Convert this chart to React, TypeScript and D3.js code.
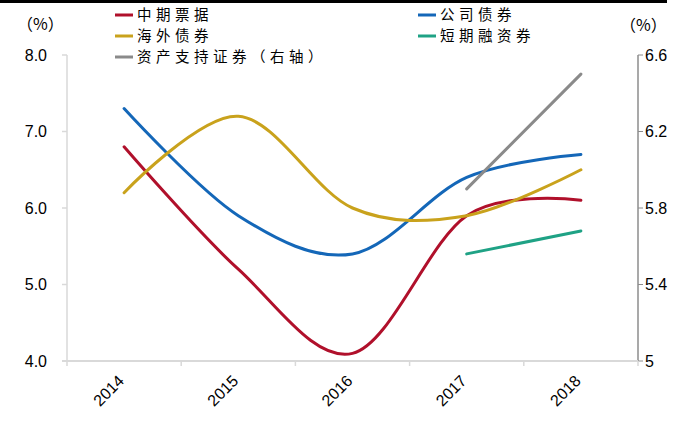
import React from "react";
import * as d3 from "d3";

const years = ["2014", "2015", "2016", "2017", "2018"];

// left axis series
const mtn = [6.8, 5.2, 4.1, 5.9, 6.1]; // 中期票据
const corp = [7.3, 5.9, 5.4, 6.4, 6.7]; // 公司债券
const overseas = [6.2, 7.2, 6.0, 5.9, 6.5]; // 海外债券
const cp = [null, null, null, 5.4, 5.7]; // 短期融资券
// right axis series
const abs = [null, null, null, 5.9, 6.5]; // 资产支持证券

const leftTicks = [4, 5, 6, 7, 8];
const rightTicks = [5, 5.4, 5.8, 6.2, 6.6];

const W = 696;
const H = 437;
const m = { left: 67, right: 638, top: 55, bottom: 361 };

const cjk = "'Noto Sans CJK SC', sans-serif";
const num = "'Liberation Sans', Arial, sans-serif";

export default function App() {
  const x = d3.scaleBand<string>().domain(years).range([m.left, m.right]);
  const yL = d3.scaleLinear().domain([4, 8]).range([m.bottom, m.top]);
  const yR = d3.scaleLinear().domain([5, 6.6]).range([m.bottom, m.top]);
  const cx = (i: number) => (x(years[i]) ?? 0) + x.bandwidth() / 2;

  const mk = (y: d3.ScaleLinear<number, number>) =>
    d3
      .line<number | null>()
      .defined((d) => d != null)
      .x((_, i) => cx(i))
      .y((d) => y(d as number))
      .curve(d3.curveCardinal.tension(0));

  const series = [
    { name: "中期票据", data: mtn, color: "#B0102B", y: yL },
    { name: "公司债券", data: corp, color: "#1467B8", y: yL },
    { name: "海外债券", data: overseas, color: "#C9A21C", y: yL },
    { name: "短期融资券", data: cp, color: "#1FA285", y: yL },
    { name: "资产支持证券（右轴）", data: abs, color: "#8A8A8A", y: yR },
  ];

  const legendPos = [
    [115, 15],
    [418, 15],
    [115, 36],
    [418, 36],
    [115, 57],
  ];

  return (
    <svg
      width={W}
      height={H}
      style={{ position: "absolute", left: 0, top: 0, background: "#fff" }}
    >
      <rect x={0} y={0} width={667} height={3} fill="#000" />

      {/* left axis */}
      <line x1={m.left} x2={m.left} y1={m.top} y2={m.bottom} stroke="#d9d9d9" strokeWidth={1.5} />
      {leftTicks.map((t) => (
        <g key={t}>
          <line x1={m.left - 5} x2={m.left} y1={yL(t)} y2={yL(t)} stroke="#d9d9d9" strokeWidth={1.5} />
          <text x={47} y={yL(t)} dy="0.35em" textAnchor="end" fontFamily={num} fontSize={16} fill="#000">
            {t.toFixed(1)}
          </text>
        </g>
      ))}

      {/* right axis */}
      <line x1={m.right} x2={m.right} y1={m.top} y2={m.bottom} stroke="#8c8c8c" strokeWidth={1.5} />
      {rightTicks.map((t) => (
        <g key={t}>
          <line x1={m.right} x2={m.right + 5} y1={yR(t)} y2={yR(t)} stroke="#8c8c8c" strokeWidth={1} />
          <text x={645} y={yR(t)} dy="0.35em" textAnchor="start" fontFamily={num} fontSize={16} fill="#000">
            {t === 5 ? "5" : t.toFixed(1)}
          </text>
        </g>
      ))}

      {/* bottom axis */}
      <line x1={m.left - 5} x2={m.right} y1={m.bottom} y2={m.bottom} stroke="#d9d9d9" strokeWidth={2} />
      {years.map((yr) => (
        <line
          key={"t" + yr}
          x1={x(yr)}
          x2={x(yr)}
          y1={m.bottom}
          y2={m.bottom + 5}
          stroke="#d9d9d9"
          strokeWidth={1.5}
        />
      ))}
      <line x1={m.right} x2={m.right} y1={m.bottom} y2={m.bottom + 5} stroke="#d9d9d9" strokeWidth={1.5} />
      {years.map((yr, i) => (
        <text
          key={yr}
          transform={`translate(${cx(i) - 3},${m.bottom + 17}) rotate(-45)`}
          textAnchor="end"
          dy="0.35em"
          fontFamily={num}
          fontSize={16}
          fill="#000"
        >
          {yr}
        </text>
      ))}

      {/* units */}
      <text x={17} y={24} dy="0.35em" fontFamily={cjk} fontSize={16} fill="#000">（%）</text>
      <text x={620} y={25} dy="0.35em" fontFamily={cjk} fontSize={16} fill="#000">（%）</text>

      {/* lines */}
      {series.map((s) => (
        <path
          key={s.name}
          d={mk(s.y)(s.data) ?? ""}
          fill="none"
          stroke={s.color}
          strokeWidth={3}
          strokeLinecap="round"
        />
      ))}

      {/* legend */}
      {series.map((s, i) => (
        <g key={"l" + s.name} transform={`translate(${legendPos[i][0]},${legendPos[i][1]})`}>
          <line x1={0} x2={18} y1={0} y2={0} stroke={s.color} strokeWidth={3} />
          <text x={22} y={0} dy="0.35em" fontFamily={cjk} fontSize={14.5} letterSpacing={4.5} fill="#000">
            {s.name}
          </text>
        </g>
      ))}
    </svg>
  );
}
